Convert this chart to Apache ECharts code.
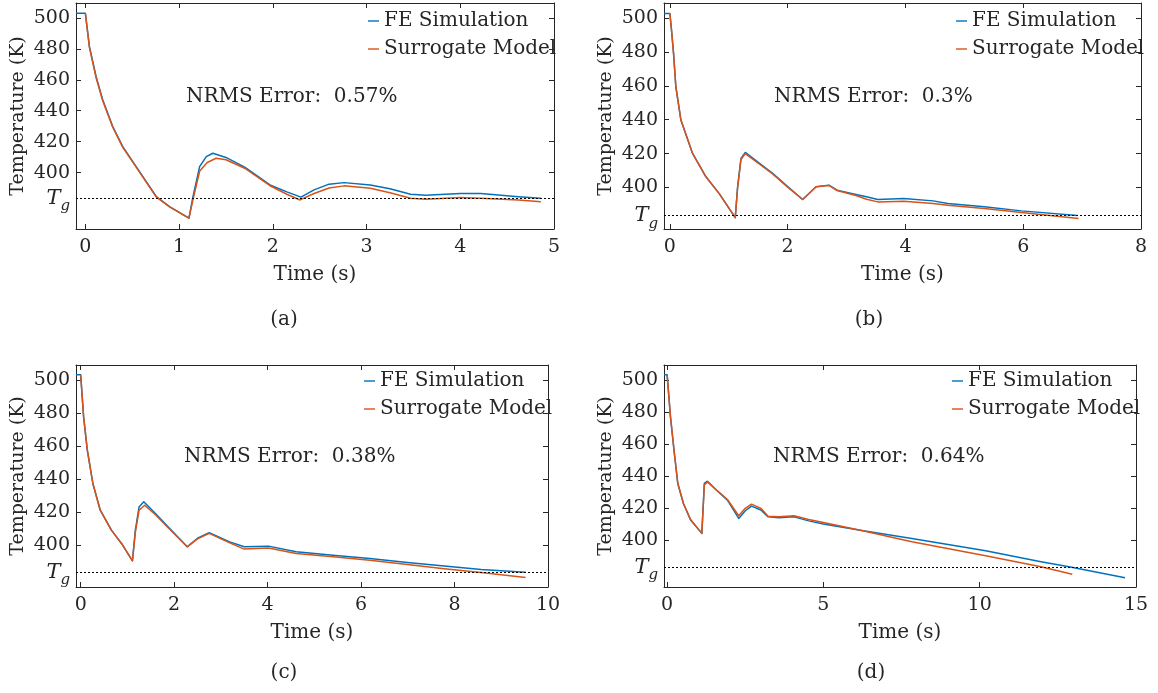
<!DOCTYPE html>
<html><head><meta charset="utf-8">
<script src="https://cdn.jsdelivr.net/npm/echarts@6/dist/echarts.min.js"></script>
<style>html,body{margin:0;padding:0;background:#fff}#c{width:1158px;height:693px}</style>
</head><body><div id="c"></div>
<script>
// ---------- data ----------
const seriesNames = ['FE Simulation', 'Surrogate Model'];
const panelLabels = ['(a)', '(b)', '(c)', '(d)'];
const nrmsTexts = ['NRMS Error:  0.57%', 'NRMS Error:  0.3%', 'NRMS Error:  0.38%', 'NRMS Error:  0.64%'];
const xTickValues = [[0,1,2,3,4,5],[0,2,4,6,8],[0,2,4,6,8,10],[0,5,10,15]];
const xMin = [-0.1, -0.1, -0.1, -0.1];
const xMax = [5, 8, 10, 15];
const yTickValues = [400, 420, 440, 460, 480, 500];
const yMin = [363.5, 375.5, 374.4, 371];
const yMax = [509.7, 508.9, 509.1, 509.3];
const Tg = 383.4;

// panel (a)
const tA_fe = [-0.1,0,0.043,0.114,0.185,0.292,0.399,0.542,0.756,0.898,1.105,1.148,1.219,1.29,1.36,1.5,1.7,1.97,2.15,2.3,2.44,2.6,2.76,3.04,3.25,3.47,3.63,4.0,4.22,4.62,4.86];
const feA   = [503,503,481.6,462.2,447.1,429.8,416.8,403.9,384.5,378,370.5,384.5,403.9,410.3,412.5,409.8,403.5,392,387.5,384.1,388.8,392.5,393.5,392,389.5,386,385.3,386.5,386.5,384.4,383.4];
const tA_sm = [0,0.043,0.114,0.185,0.292,0.399,0.542,0.756,0.898,1.105,1.15,1.22,1.3,1.395,1.5,1.7,1.97,2.15,2.29,2.44,2.6,2.76,3.04,3.25,3.47,3.63,4.0,4.22,4.62,4.86];
const smA   = [503,481,461.5,446.5,429.3,416.3,403.5,384.3,377.8,370.5,383,401,406.5,409.3,408.3,402.8,391.5,386,382.3,386.5,390,391.4,389.9,387,383.4,382.7,383.9,383.4,382.3,381.1];

// panel (b)
const tB_fe = [-0.1,0,0.03,0.062,0.101,0.187,0.385,0.612,0.838,1.11,1.15,1.207,1.28,1.5,1.745,2.0,2.255,2.483,2.7,2.84,3.16,3.34,3.53,3.97,4.47,4.72,5.34,5.97,6.92];
const feB   = [502.7,502.7,492,479.3,459.5,439.8,420.1,406.3,396.4,382.2,400.4,417.2,420.7,414.8,408.3,400.5,392.9,400.4,401.4,398.4,395.9,394.5,392.9,393.5,392.1,390.5,388.6,386.2,383.4];
const tB_sm = [0,0.03,0.062,0.101,0.187,0.385,0.612,0.838,1.11,1.15,1.207,1.28,1.5,1.745,2.0,2.255,2.483,2.7,2.84,3.16,3.34,3.53,3.97,4.47,4.72,5.34,5.97,6.94];
const smB   = [502.7,492,479.3,459.5,439.8,420.1,406.3,396.4,382.2,400,416.5,420,414.3,408,400.2,392.9,400.4,401.2,398.2,395.3,393.1,391.5,391.9,390.5,389.5,387.6,385.2,381.7];

// panel (c)
const tC_fe = [-0.1,0,0.063,0.142,0.261,0.419,0.657,0.894,1.108,1.17,1.25,1.35,1.6,1.9,2.28,2.5,2.75,3.19,3.5,4.02,4.61,5.4,6.19,6.99,7.78,8.57,9.52];
const feC   = [503.2,503.2,477.6,457.4,437.2,421,408.9,400,390.3,408.9,423,426.1,419,410,398.8,404,407.3,401.8,398.8,399.2,395.8,393.7,391.7,389.3,387.1,385,383.4];
const tC_sm = [0,0.063,0.142,0.261,0.419,0.657,0.894,1.108,1.17,1.25,1.37,1.6,1.9,2.28,2.5,2.75,3.19,3.5,4.02,4.61,5.4,6.19,6.99,7.78,8.57,9.52];
const smC   = [503.2,477.6,457.4,437.2,421,408.9,400,390.3,407.5,421,424,418.2,409.6,398.8,403.6,406.9,401.2,397.4,398,394.7,392.7,390.7,388.1,385.5,383.2,380.2];

// panel (d)
const tD_fe = [-0.1,0,0.106,0.22,0.34,0.52,0.75,1.11,1.19,1.29,1.6,1.93,2.29,2.5,2.7,3.0,3.23,3.58,4.06,4.53,5.0,6.18,7.83,10.19,11.96,12.9,14.65];
const feD   = [503.3,503.3,477,456.2,435.5,423,412.7,404.4,435.5,436.9,431,425.1,413.7,418.5,421.4,419,414.7,414.1,414.7,412.2,410.2,406.4,401.2,393.6,386.7,383.4,376.8];
const tD_sm = [0,0.106,0.22,0.34,0.52,0.75,1.11,1.19,1.29,1.6,1.93,2.29,2.5,2.7,3.0,3.23,3.58,4.06,4.53,5.0,6.18,7.83,10.19,11.96,12.96];
const smD   = [503.3,477.5,456.5,435.8,423.2,413,404.4,434.5,436.5,431,425.5,415.4,420,422.6,420,415.1,414.7,415.4,413.1,411.2,406.4,399.2,390.5,383.6,379];

const feT = [tA_fe, tB_fe, tC_fe, tD_fe], feV = [feA, feB, feC, feD];
const smT = [tA_sm, tB_sm, tC_sm, tD_sm], smV = [smA, smB, smC, smD];

// ---------- style ----------
const FONT = 'DejaVu Serif';
const INK = '#262626';
const BLUE = '#0072BD', ORANGE = '#D95319';
const grids = [
  {left: 76, top: 3, width: 478, height: 226},
  {left: 664, top: 3, width: 477, height: 226},
  {left: 76, top: 365, width: 472, height: 222},
  {left: 664, top: 365, width: 472, height: 222}
];
const legendPos = [{left: 368, top: 11}, {left: 956, top: 11}, {left: 364, top: 371}, {left: 952, top: 371}];
const nrmsPos = [[186, 98], [774, 98], [184, 458], [773, 458]];
const capPos = [[284, 320], [869, 320], [284, 673], [871, 673]];

const zip = (t, v) => t.map((x, i) => [x, v[i]]);

const option = {animation: false, grid: [], xAxis: [], yAxis: [], series: [], legend: [], graphic: []};

for (let p = 0; p < 4; p++) {
  option.grid.push(Object.assign({containLabel: false}, grids[p]));
  const tickStyle = {show: true, inside: true, length: 5, lineStyle: {color: INK, width: 1}};
  option.xAxis.push({
    type: 'value', gridIndex: p, min: xMin[p], max: xMax[p], position: 'bottom',
    name: 'Time (s)', nameLocation: 'middle', nameGap: 36,
    nameTextStyle: {fontFamily: FONT, fontSize: 20, color: INK},
    axisLine: {show: true, onZero: false, lineStyle: {color: INK, width: 1}},
    axisTick: Object.assign({customValues: xTickValues[p]}, tickStyle),
    axisLabel: {customValues: xTickValues[p], fontFamily: FONT, fontSize: 19, color: INK, margin: 9},
    splitLine: {show: false}
  });
  option.xAxis.push({
    type: 'value', gridIndex: p, min: xMin[p], max: xMax[p], position: 'top',
    axisLine: {show: true, onZero: false, lineStyle: {color: INK, width: 1}},
    axisTick: Object.assign({customValues: xTickValues[p]}, tickStyle),
    axisLabel: {show: false}, splitLine: {show: false}
  });
  option.yAxis.push({
    type: 'value', gridIndex: p, min: yMin[p], max: yMax[p], position: 'left',
    name: 'Temperature (K)', nameLocation: 'middle', nameGap: 48,
    nameTextStyle: {fontFamily: FONT, fontSize: 19, color: INK},
    axisLine: {show: true, onZero: false, lineStyle: {color: INK, width: 1}},
    axisTick: Object.assign({customValues: yTickValues}, tickStyle),
    axisLabel: {
      customValues: [Tg].concat(yTickValues), fontFamily: FONT, fontSize: 19, color: INK, margin: 6,
      formatter: v => Math.abs(v - Tg) < 0.01 ? '{t|T}{g|g}' : String(v),
      rich: {
        t: {fontFamily: FONT, fontStyle: 'italic', fontSize: 21, color: INK},
        g: {fontFamily: FONT, fontStyle: 'italic', fontSize: 15, color: INK, padding: [16, 0, 0, 0]}
      }
    },
    splitLine: {show: false}
  });
  option.yAxis.push({
    type: 'value', gridIndex: p, min: yMin[p], max: yMax[p], position: 'right',
    axisLine: {show: true, onZero: false, lineStyle: {color: INK, width: 1}},
    axisTick: Object.assign({customValues: yTickValues}, tickStyle),
    axisLabel: {show: false}, splitLine: {show: false}
  });
  option.series.push({
    name: seriesNames[0], type: 'line', xAxisIndex: 2 * p, yAxisIndex: 2 * p,
    data: zip(feT[p], feV[p]), showSymbol: false, symbol: 'none',
    lineStyle: {color: BLUE, width: 1.5, join: 'round'}, itemStyle: {color: BLUE}, z: 2
  });
  option.series.push({
    name: seriesNames[1], type: 'line', xAxisIndex: 2 * p, yAxisIndex: 2 * p,
    data: zip(smT[p], smV[p]), showSymbol: false, symbol: 'none',
    lineStyle: {color: ORANGE, width: 1.5, join: 'round'}, itemStyle: {color: ORANGE}, z: 3,
    markLine: {
      silent: true, symbol: 'none', label: {show: false},
      lineStyle: {color: '#000', type: [2, 2], width: 1},
      data: [{yAxis: Tg}]
    }
  });
  option.legend.push({
    data: seriesNames, orient: 'vertical', left: legendPos[p].left, top: legendPos[p].top,
    icon: 'rect', itemWidth: 11, itemHeight: 1.4, itemGap: 8, selectedMode: false,
    textStyle: {fontFamily: FONT, fontSize: 20, color: INK}, padding: 0
  });
  option.graphic.push({
    type: 'text', left: nrmsPos[p][0], top: nrmsPos[p][1] - 11,
    style: {text: nrmsTexts[p], font: '20px "DejaVu Serif"', fill: INK}
  });
  option.graphic.push({
    type: 'text', x: capPos[p][0], y: capPos[p][1],
    style: {text: panelLabels[p], font: '20px "DejaVu Serif"', fill: INK, align: 'center', verticalAlign: 'middle'}
  });
}

const chart = echarts.init(document.getElementById('c'), null, {renderer: 'canvas'});
chart.setOption(option);
</script>
</body></html>
